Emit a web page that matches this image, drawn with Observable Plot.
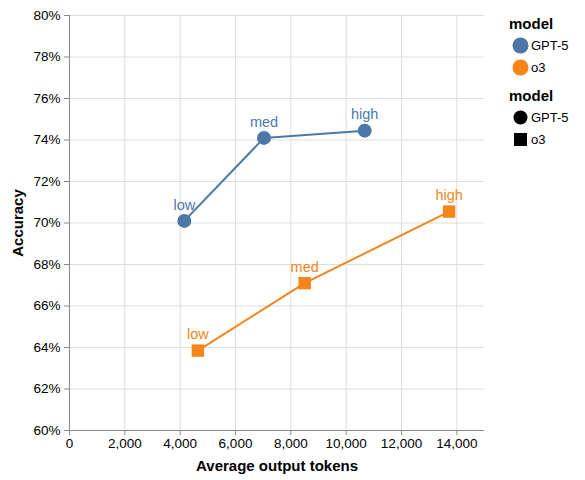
<!DOCTYPE html>
<html>
<head>
<meta charset="utf-8">
<script src="https://cdn.jsdelivr.net/npm/d3@7"></script>
<script src="https://cdn.jsdelivr.net/npm/@observablehq/plot@0.6"></script>
<style>
  body { margin: 0; background: #fff; font-family: "Liberation Sans", Arial, sans-serif; }
  #chart { position: relative; width: 585px; height: 480px; }
  #legend { position: absolute; left: 509px; top: 14px; color: #000; }
  .ltitulo { font-weight: bold; font-size: 15px; height: 20px; line-height: 20px; }
  .lfila { display: flex; align-items: center; height: 22px; font-size: 13px; }
  .lsimbolo { width: 22px; display: flex; justify-content: center; align-items: center; margin-right: 0px; }
  .lgrupo { margin-bottom: 8px; }
</style>
</head>
<body>
<div id="chart"><div id="legend"></div></div>
<script>
// Datos
const modelos = ["GPT-5", "o3"];
const colores = ["#4c78a8", "#f58518"];
const simbolos = ["circle", "square"];
const esfuerzo = ["low", "med", "high"];

const tokensGPT5 = [4150, 7030, 10670];
const accGPT5 = [70.1, 74.1, 74.45];
const tokensO3 = [4640, 8500, 13720];
const accO3 = [63.85, 67.1, 70.55];

const ticksX = [0, 2000, 4000, 6000, 8000, 10000, 12000, 14000];
const ticksY = [60, 62, 64, 66, 68, 70, 72, 74, 76, 78, 80];

// Armamos la tabla para Plot
const data = [
  ...esfuerzo.map((e, i) => ({model: "GPT-5", effort: e, tokens: tokensGPT5[i], acc: accGPT5[i]})),
  ...esfuerzo.map((e, i) => ({model: "o3", effort: e, tokens: tokensO3[i], acc: accO3[i]}))
];

let chart = Plot.plot({
  width: 500,
  height: 480,
  marginLeft: 69,
  marginRight: 16,
  marginTop: 15,
  marginBottom: 50,
  style: {fontFamily: "Liberation Sans, Arial, sans-serif", background: "#fff", overflow: "visible"},
  x: {domain: [0, 15000]},
  y: {domain: [60, 80]},
  color: {domain: modelos, range: colores},
  symbol: {domain: modelos, range: simbolos},
  marks: [
    Plot.gridX(ticksX, {stroke: "#ddd", strokeOpacity: 1}),
    Plot.gridY(ticksY, {stroke: "#ddd", strokeOpacity: 1}),
    Plot.ruleX([ticksX[0]], {stroke: "#888"}),
    Plot.ruleY([ticksY[0]], {stroke: "#888"}),
    Plot.axisX(ticksX, {tickFormat: d3.format(","), stroke: "#888", fill: "#000", tickSize: 5, tickPadding: 3, fontSize: 13.5, label: null}),
    Plot.axisY(ticksY, {tickFormat: d => d + "%", stroke: "#888", fill: "#000", tickSize: 5, tickPadding: 4, fontSize: 13.5, label: null}),
    Plot.text(["Average output tokens"], {frameAnchor: "bottom", dy: 36, fontWeight: "bold", fontSize: 15, fill: "#000", lineAnchor: "middle"}),
    Plot.text(["Accuracy"], {frameAnchor: "left", dx: -51, rotate: -90, textAnchor: "middle", lineAnchor: "middle", fontWeight: "bold", fontSize: 15, fill: "#000"}),
    Plot.line(data, {x: "tokens", y: "acc", z: "model", stroke: "model", strokeWidth: 2}),
    Plot.dot(data, {x: "tokens", y: "acc", fill: "model", symbol: "model", r: 7, stroke: null}),
    Plot.text(data, {x: "tokens", y: "acc", text: "effort", fill: "model", dy: -16, fontSize: 14.5, lineAnchor: "middle"})
  ]
})

// Agregamos el grafico al div#chart
d3.select('#chart').insert(() => chart, '#legend')

// Leyenda a mano (dos grupos: color y simbolo)
const leyenda = d3.select('#legend')
const g1 = leyenda.append('div').attr('class', 'lgrupo')
g1.append('div').attr('class', 'ltitulo').text('model')
modelos.forEach((m, i) => {
  const fila = g1.append('div').attr('class', 'lfila')
  fila.append('div').attr('class', 'lsimbolo').html(`<svg width="17" height="17"><circle cx="8.5" cy="8.5" r="8" fill="${colores[i]}"/></svg>`)
  fila.append('span').text(m)
})
const g2 = leyenda.append('div').attr('class', 'lgrupo')
g2.append('div').attr('class', 'ltitulo').text('model')
modelos.forEach((m, i) => {
  const fila = g2.append('div').attr('class', 'lfila')
  const forma = simbolos[i] == "circle"
    ? `<circle cx="7.5" cy="7.5" r="7" fill="#000"/>`
    : `<rect x="1" y="1" width="13" height="13" fill="#000"/>`
  fila.append('div').attr('class', 'lsimbolo').html(`<svg width="15" height="15">${forma}</svg>`)
  fila.append('span').text(m)
})
</script>
</body>
</html>
